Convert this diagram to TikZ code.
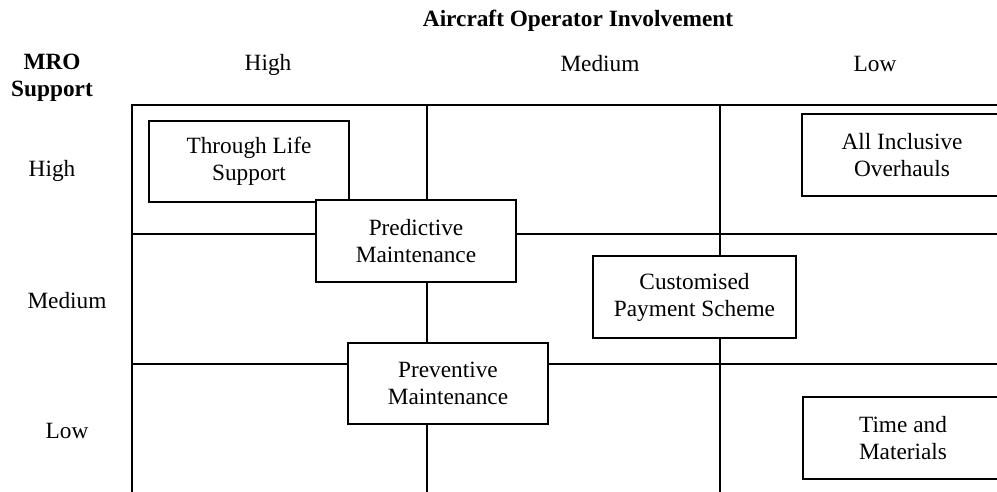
\documentclass[tikz,border=0pt]{standalone}
\usepackage{fontspec}
\setmainfont{Liberation Serif}
\begin{document}
\begin{tikzpicture}[x=1pt,y=-1pt,
  gridline/.style={line width=2.6pt},
  option/.style={draw, line width=1.9pt, fill=white, align=center,
    inner sep=0pt, minimum width=200pt, minimum height=81pt},
  label/.style={inner sep=0pt, align=center}]
  \useasboundingbox (0,0) rectangle (997,492);
  \begin{scope}
  \clip (0,0) rectangle (997,492);
  \fontsize{23.3}{27}\selectfont
  % matrix grid
  \draw[gridline] (132,500) -- (132,105) -- (1005,105);
  \draw[gridline] (427,105) -- (427,500);
  \draw[gridline] (720,105) -- (720,500);
  \draw[gridline] (132,234) -- (1005,234);
  \draw[gridline] (132,364) -- (1005,364);
  % axis titles and levels
  \node[label, font=\bfseries] (xtitle) at (578,21) {Aircraft Operator Involvement};
  \node[label] (colhigh) at (268,65) {High};
  \node[label] (colmed)  at (600,64) {Medium};
  \node[label] (collow)  at (875,64) {Low};
  \node[label, font=\bfseries] (ytitle) at (52,78) {MRO\\Support};
  \node[label] (rowhigh) at (52,171) {High};
  \node[label] (rowmed)  at (67,301) {Medium};
  \node[label] (rowlow)  at (67,431) {Low};
  % service options
  \node[option] (tls)  at (249,161.5) {Through Life\\Support};
  \node[option, minimum height=82pt] (pred) at (416,241) {Predictive\\Maintenance};
  \node[option] (prev) at (448,383.5) {Preventive\\Maintenance};
  \node[option, minimum width=203pt, minimum height=82pt] (cps) at (694.5,297) {Customised\\Payment Scheme};
  \node[option, minimum height=82pt] (aio) at (902,155) {All Inclusive\\Overhauls};
  \node[option, minimum height=82pt] (tm)  at (903,438) {Time and\\Materials};
  \end{scope}
\end{tikzpicture}
\end{document}
